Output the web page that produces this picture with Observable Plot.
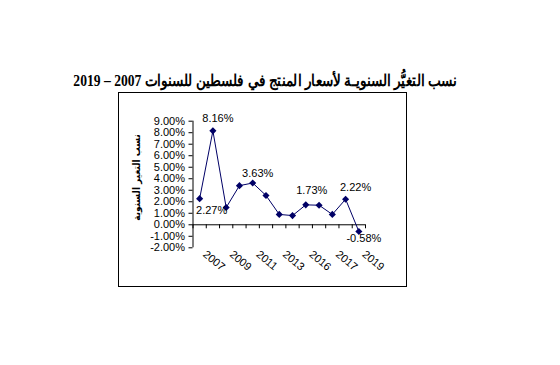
<!DOCTYPE html>
<html><head><meta charset="utf-8">
<script src="https://cdn.jsdelivr.net/npm/d3@7"></script>
<script src="https://cdn.jsdelivr.net/npm/@observablehq/plot@0.6"></script>
<style>
html,body{margin:0;padding:0;background:#fff;}
#wrap{position:relative;width:560px;height:365px;overflow:hidden;background:#fff;}
#title{position:absolute;left:0;width:530px;top:71px;text-align:center;font-weight:bold;font-size:16px;font-family:"Liberation Serif","DejaVu Serif",serif;direction:rtl;white-space:nowrap;line-height:20px;color:#000;transform:scaleX(0.85);transform-origin:265px 50%;}
#box{position:absolute;left:118px;top:92px;width:289px;height:195px;border:1px solid #000;box-sizing:border-box;}
#chart{position:absolute;left:0;top:0;}
</style></head><body>
<div id="wrap"><div id="box"></div><div id="chart"></div><div id="title"></div></div>
<script>
const titleText = "نسب التغيُّر السنويـة لأسعار المنتج في فلسطين للسنوات 2007 – 2019";
const yAxisTitle = "نسب التغير السنوية";
const years = [2007, 2008, 2009, 2010, 2011, 2012, 2013, 2014, 2015, 2016, 2017, 2018, 2019];
const values = [2.27, 8.16, 1.5, 3.4, 3.63, 2.55, 0.9, 0.8, 1.73, 1.7, 0.9, 2.22, -0.58];
const labelledYears = [2007, 2008, 2011, 2015, 2018, 2019];
const yTicks = [-2, -1, 0, 1, 2, 3, 4, 5, 6, 7, 8, 9];
const xTickYears = [2007, 2009, 2011, 2013, 2015, 2017, 2019];
const xTickLabels = ["2007", "2009", "2011", "2013", "2016", "2017", "2019"];

document.getElementById("title").textContent = titleText;

// label placement (style)
const labelOffset = {2007: [12, 12], 2008: [5, -12], 2011: [5, -10], 2015: [6, -14], 2018: [10, -12], 2019: [5, 7]};
const navy = "#000066";
const pct = d => d.toFixed(2) + "%";

const data = years.map((year, i) => ({year, value: values[i]}));
const bounds = [...years.map(y => y - 0.5), years[years.length - 1] + 0.5];
const x0 = bounds[0];
const yMin = yTicks[0], yMax = yTicks[yTicks.length - 1];

const plot = Plot.plot({
  width: 560, height: 365,
  marginLeft: 192.5, marginRight: 195, marginTop: 120.7, marginBottom: 117.7,
  x: {type: "linear", domain: [bounds[0], bounds[bounds.length - 1]], axis: null},
  y: {type: "linear", domain: [yMin, yMax], axis: null},
  style: {fontFamily: "'Liberation Sans', Arial, sans-serif", fontSize: "11px", color: "#000", background: "transparent", overflow: "visible"},
  marks: [
    // y axis line + ticks + labels
    Plot.ruleX([x0], {y1: yMin, y2: yMax, stroke: "#000", strokeWidth: 1}),
    Plot.ruleY(yTicks, {y: d => d, x1: x0, x2: x0, insetLeft: -4, stroke: "#000"}),
    Plot.text(yTicks, {x: x0, y: d => d, text: pct, textAnchor: "end", dx: -8, fill: "#000"}),
    // x axis at zero + ticks at category boundaries
    Plot.ruleY([0], {x1: bounds[0], x2: bounds[bounds.length - 1], stroke: "#000"}),
    Plot.ruleX(bounds, {x: d => d, y1: 0, y2: 0, insetBottom: -4, stroke: "#000"}),
    Plot.text(xTickLabels, {x: (d, i) => xTickYears[i], y: yMin, text: d => d, rotate: 40, textAnchor: "start", dx: 5, dy: 5, fill: "#000"}),
    // y axis title
    Plot.text([yAxisTitle], {frameAnchor: "left", text: d => d, rotate: -90, textAnchor: "middle", dx: -56, dy: -7, fontFamily: "'DejaVu Sans Condensed', 'DejaVu Sans', sans-serif", fontWeight: "bold", fontSize: 10, fill: "#000"}),
    // series
    Plot.line(data, {x: "year", y: "value", stroke: navy, strokeWidth: 1}),
    Plot.dot(data, {x: "year", y: "value", symbol: "diamond2", r: 3.2, fill: navy, stroke: "none"}),
    ...labelledYears.map(yr => Plot.text(data.filter(d => d.year === yr), {
      x: "year", y: "value", text: d => pct(d.value),
      dx: labelOffset[yr][0], dy: labelOffset[yr][1], fill: "#000"
    }))
  ]
});
document.getElementById("chart").appendChild(plot);
</script>
</body></html>
